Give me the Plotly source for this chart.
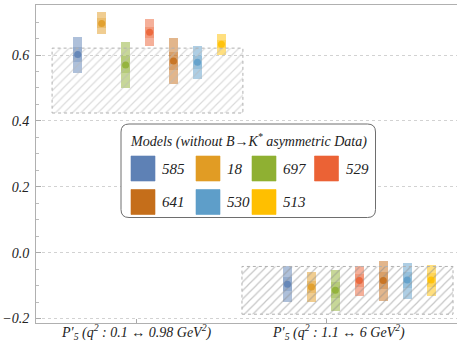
import plotly.graph_objects as go

# ---------------- data ----------------
models = ["585", "18", "697", "529", "641", "530", "513"]
colors = ["#5E81B5", "#E19C24", "#8FB032", "#EB6235", "#C56E1A", "#5E9EC9", "#FFBF00"]
group_labels = ["P′<sub>5</sub> (<i>q</i><sup>2</sup> : 0.1 ↔ 0.98 GeV<sup>2</sup>)",
                "P′<sub>5</sub> (<i>q</i><sup>2</sup> : 1.1 ↔ 6 GeV<sup>2</sup>)"]

# group 1 : low q2 bin
g1_center = [0.602, 0.696, 0.570, 0.669, 0.582, 0.578, 0.633]
g1_out_lo = [0.546, 0.664, 0.501, 0.628, 0.512, 0.527, 0.600]
g1_out_hi = [0.656, 0.732, 0.640, 0.709, 0.653, 0.627, 0.663]
g1_in_lo = [0.580, 0.681, 0.545, 0.652, 0.556, 0.558, 0.620]
g1_in_hi = [0.624, 0.712, 0.596, 0.686, 0.610, 0.598, 0.646]

# group 2 : 1.1-6 GeV^2 bin
g2_center = [-0.096, -0.104, -0.114, -0.085, -0.085, -0.083, -0.083]
g2_out_lo = [-0.149, -0.149, -0.177, -0.132, -0.147, -0.141, -0.132]
g2_out_hi = [-0.042, -0.060, -0.053, -0.040, -0.026, -0.030, -0.039]
g2_in_lo = [-0.118, -0.122, -0.139, -0.104, -0.110, -0.106, -0.103]
g2_in_hi = [-0.074, -0.086, -0.089, -0.066, -0.060, -0.060, -0.063]

# experimental bands (hatched)
exp_lo = [0.424, -0.187]
exp_hi = [0.621, -0.042]

# ---------------- layout geometry ----------------
W, H = 457, 346
ML, MR, MT, MB = 36, 0, 5, 23
group_pos = [0.0, 1.0]
group_center = [0.068, 1.176]
bar_step = 0.1265
bar_w = 0.0475
exp_x = [(-0.447, 0.561), (0.556, 1.671)]
label_x = [0.0, 1.065]
SERIF = "Liberation Serif, Times New Roman, Times, DejaVu Serif, serif"

def hex_rgba(h, a):
    h = h.lstrip("#")
    r, g, b = int(h[0:2], 16), int(h[2:4], 16), int(h[4:6], 16)
    return f"rgba({r},{g},{b},{a})"

fig = go.Figure()

# hatched experimental regions
for k in range(2):
    x0, x1 = exp_x[k]
    fig.add_trace(go.Scatter(
        x=[x0, x1, x1, x0, x0], y=[exp_lo[k], exp_lo[k], exp_hi[k], exp_hi[k], exp_lo[k]],
        mode="lines", fill="toself", fillcolor="rgba(255,255,255,0)",
        fillpattern=dict(shape="/", fgcolor="#8c8c8c" if k == 1 else "#b8b8b8",
                         bgcolor="rgba(255,255,255,0)", size=6, solidity=0.2),
        line=dict(color="#b0b0b0", width=1, dash="dot"),
        hoverinfo="skip", showlegend=False))

groups = [(g1_center, g1_out_lo, g1_out_hi, g1_in_lo, g1_in_hi),
          (g2_center, g2_out_lo, g2_out_hi, g2_in_lo, g2_in_hi)]

for gi, (cen, olo, ohi, ilo, ihi) in enumerate(groups):
    for i, m in enumerate(models):
        xp = group_center[gi] + (i - 3) * bar_step
        fig.add_trace(go.Bar(x=[xp], y=[ohi[i] - olo[i]], base=[olo[i]], width=bar_w,
                             marker=dict(color=hex_rgba(colors[i], 0.5), line=dict(width=0)),
                             showlegend=False, hoverinfo="skip"))
        fig.add_trace(go.Bar(x=[xp], y=[ihi[i] - ilo[i]], base=[ilo[i]], width=bar_w,
                             marker=dict(color=hex_rgba(colors[i], 0.3), line=dict(width=0)),
                             showlegend=False, hoverinfo="skip"))
        fig.add_trace(go.Scatter(x=[xp], y=[cen[i]], mode="markers",
                                 marker=dict(color=hex_rgba(colors[i], 0.85), size=7),
                                 showlegend=False, hoverinfo="skip"))

# ---------------- manual legend ----------------
PW, PH = W - ML - MR, H - MT - MB
def px(x):
    return (x - ML) / PW
def py(y):
    return 1 - (y - MT) / PH

shapes = []
bx0, bx1, by0, by1, r = 121, 375.5, 124, 217.5, 8
path = (f"M {px(bx0 + r)},{py(by0)} L {px(bx1 - r)},{py(by0)} "
        f"Q {px(bx1)},{py(by0)} {px(bx1)},{py(by0 + r)} L {px(bx1)},{py(by1 - r)} "
        f"Q {px(bx1)},{py(by1)} {px(bx1 - r)},{py(by1)} L {px(bx0 + r)},{py(by1)} "
        f"Q {px(bx0)},{py(by1)} {px(bx0)},{py(by1 - r)} L {px(bx0)},{py(by0 + r)} "
        f"Q {px(bx0)},{py(by0)} {px(bx0 + r)},{py(by0)} Z")
shapes.append(dict(type="path", xref="paper", yref="paper", path=path,
                   fillcolor="white", line=dict(color="#6e6e6e", width=1), layer="above"))

annotations = []
annotations.append(dict(xref="paper", yref="paper", x=px(248), y=py(140.5),
                        text="Models (without B→K<sup>*</sup> asymmetric Data)",
                        showarrow=False, xanchor="center", yanchor="middle",
                        font=dict(family=SERIF, size=14, color="#222", style="italic")))
col_x = [131, 196, 252, 314.5]
row_y = [156, 189.5]
sw, sh = 24, 25
for i, m in enumerate(models):
    rr, cc = divmod(i, 4)
    x0, y0 = col_x[cc], row_y[rr]
    shapes.append(dict(type="rect", xref="paper", yref="paper",
                       x0=px(x0), x1=px(x0 + sw), y0=py(y0 + sh), y1=py(y0),
                       fillcolor=colors[i], line=dict(color=hex_rgba(colors[i], 0.6), width=1),
                       layer="above"))
    annotations.append(dict(xref="paper", yref="paper", x=px(x0 + sw + 5), y=py(y0 + sh / 2),
                            text=m, showarrow=False, xanchor="left", yanchor="middle",
                            font=dict(family=SERIF, size=15, color="#222", style="italic")))

for k in range(2):
    annotations.append(dict(xref="x", yref="paper", x=label_x[k], y=py(332),
                            text=group_labels[k], showarrow=False,
                            xanchor="center", yanchor="middle",
                            font=dict(family=SERIF, size=14, color="#222", style="italic")))

fig.update_layout(
    width=W, height=H,
    margin=dict(l=ML, r=MR, t=MT, b=MB, pad=0),
    paper_bgcolor="white", plot_bgcolor="white",
    barmode="overlay", bargap=0,
    shapes=shapes, annotations=annotations, showlegend=False,
    font=dict(family=SERIF),
    xaxis=dict(range=[-0.532, 1.692], tickvals=group_pos, ticktext=["", ""],
               showticklabels=False, ticks="inside", ticklen=4, tickcolor="#aaaaaa",
               showgrid=False, zeroline=False, showline=True, linecolor="#b0b0b0",
               linewidth=1, mirror=True),
    yaxis=dict(range=[-0.2137, 0.752], tick0=0, dtick=0.2, tickformat=".1f",
               ticks="inside", ticklen=5, tickcolor="#aaaaaa",
               minor=dict(dtick=0.05, ticks="inside", ticklen=2.5, tickcolor="#bbbbbb", showgrid=False),
               showgrid=True, gridcolor="#d2d2d2", griddash="dot", gridwidth=1,
               zeroline=False, showline=True, linecolor="#b0b0b0", linewidth=1,
               tickfont=dict(family=SERIF, size=14, color="#222", style="italic"),
               ticklabelstandoff=3),
)

fig.write_html("out.html", config={"displayModeBar": False},
               post_script="document.body.style.margin='0';")
